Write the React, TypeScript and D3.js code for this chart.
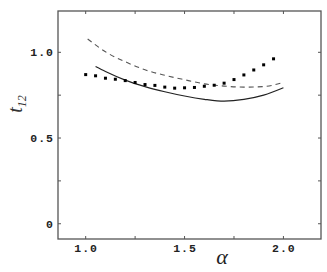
import React from "react";
import * as d3 from "d3";

const xTicks = [1.0, 1.25, 1.5, 1.75, 2.0];
const xTickLabels = ["1.0", "", "1.5", "", "2.0"];
const yTicks = [0, 0.25, 0.5, 0.75, 1.0];
const yTickLabels = ["0", "", "0.5", "", "1.0"];

const dotAlpha = [1.0, 1.05, 1.1, 1.15, 1.2, 1.25, 1.3, 1.35, 1.4, 1.45, 1.5, 1.55, 1.6, 1.65, 1.7, 1.75, 1.8, 1.85, 1.9, 1.95];
const dotT = [0.870, 0.863, 0.849, 0.843, 0.835, 0.824, 0.812, 0.807, 0.797, 0.791, 0.793, 0.795, 0.802, 0.808, 0.820, 0.841, 0.868, 0.897, 0.927, 0.962];

const dashAlpha = [1.01, 1.1, 1.2, 1.3, 1.4, 1.5, 1.6, 1.7, 1.8, 1.9, 1.99];
const dashT = [1.078, 1.003, 0.945, 0.898, 0.866, 0.840, 0.816, 0.803, 0.797, 0.800, 0.822];

const solidAlpha = [1.05, 1.1, 1.2, 1.3, 1.4, 1.5, 1.6, 1.7, 1.8, 1.9, 2.0];
const solidT = [0.917, 0.888, 0.838, 0.800, 0.770, 0.745, 0.726, 0.715, 0.725, 0.750, 0.793];

const W = 327, H = 272;
const L = 58, R = 321, T = 11, B = 239;

export default function App() {
  const x = d3.scaleLinear().domain([0.86, 2.19]).range([L, R]);
  const y = d3.scaleLinear().domain([-0.089, 1.241]).range([B, T]);
  const line = d3.line<[number, number]>().x(d => x(d[0])).y(d => y(d[1])).curve(d3.curveMonotoneX);
  const dashed = line(dashAlpha.map((a, i) => [a, dashT[i]]));
  const solid = line(solidAlpha.map((a, i) => [a, solidT[i]]));
  const tl = 3;
  const axisColor = "#555";
  const tickFont = { fontFamily: "'Liberation Mono', 'DejaVu Sans Mono', monospace", fontWeight: 700, fontSize: 11.5, letterSpacing: 1 } as const;
  return (
    <svg width={W} height={H} style={{ position: "absolute", left: 0, top: 0, background: "#fff" }}>
      <rect x={L} y={T} width={R - L} height={B - T} fill="none" stroke={axisColor} strokeWidth={1.3} />
      {xTicks.map((v, i) => (
        <g key={"x" + i}>
          <line x1={x(v)} x2={x(v)} y1={B} y2={B - tl} stroke={axisColor} strokeWidth={1} />
          <line x1={x(v)} x2={x(v)} y1={T} y2={T + tl} stroke={axisColor} strokeWidth={1} />
          {xTickLabels[i] && (
            <text x={x(v) + 0.5} y={252} textAnchor="middle" style={tickFont} fill="#222">{xTickLabels[i]}</text>
          )}
        </g>
      ))}
      {yTicks.map((v, i) => (
        <g key={"y" + i}>
          <line x1={L} x2={L + tl} y1={y(v)} y2={y(v)} stroke={axisColor} strokeWidth={1} />
          <line x1={R} x2={R - tl} y1={y(v)} y2={y(v)} stroke={axisColor} strokeWidth={1} />
          {yTickLabels[i] && (
            <text x={L - 4} y={y(v) + 4} textAnchor="end" style={tickFont} fill="#222">{yTickLabels[i]}</text>
          )}
        </g>
      ))}
      <path d={dashed || ""} fill="none" stroke="#555" strokeWidth={1.1} strokeDasharray="5,4" />
      <path d={solid || ""} fill="none" stroke="#222" strokeWidth={1.2} />
      {dotAlpha.map((a, i) => (
        <rect key={"d" + i} x={x(a) - 1.5} y={y(dotT[i]) - 1.5} width={3} height={3} fill="#000" />
      ))}
      <text x={222} y={264} textAnchor="middle" fontFamily="'Liberation Serif', 'DejaVu Serif', serif" fontStyle="italic" fontSize={22} fill="#222">α</text>
      <text transform="translate(22,104) rotate(-90)" textAnchor="middle" fontFamily="'Liberation Serif', 'DejaVu Serif', serif" fontStyle="italic" fontSize={20} fill="#333">
        t<tspan fontSize={12} dy={4}>12</tspan>
      </text>
    </svg>
  );
}
